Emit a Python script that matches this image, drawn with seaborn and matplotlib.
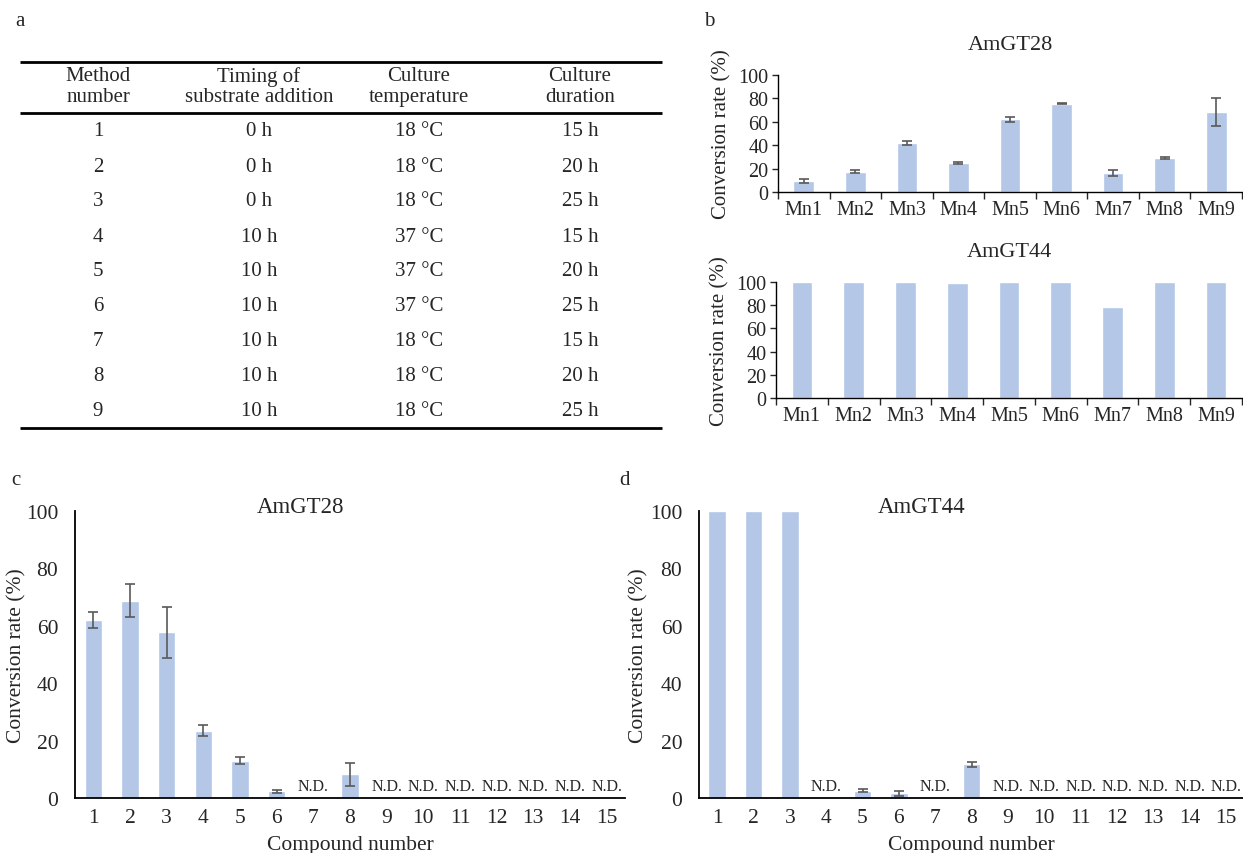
import numpy as np
import seaborn as sns
import matplotlib.pyplot as plt

sns.set_theme(style="white")
plt.rcParams['font.family'] = ['Liberation Serif', 'DejaVu Serif']
plt.rcParams['font.size'] = 15

# ---- data ----
tab_headers = ['Method\nnumber', 'Timing of\nsubstrate addition', 'Culture\ntemperature', 'Culture\nduration']
tab_method = ['1', '2', '3', '4', '5', '6', '7', '8', '9']
tab_timing = ['0 h', '0 h', '0 h', '10 h', '10 h', '10 h', '10 h', '10 h', '10 h']
tab_temp = ['18 °C', '18 °C', '18 °C', '37 °C', '37 °C', '37 °C', '18 °C', '18 °C', '18 °C']
tab_duration = ['15 h', '20 h', '25 h', '15 h', '20 h', '25 h', '15 h', '20 h', '25 h']

methods = ['Mn1', 'Mn2', 'Mn3', 'Mn4', 'Mn5', 'Mn6', 'Mn7', 'Mn8', 'Mn9']
gt28_method = [9.5, 17.5, 42.0, 25.0, 62.0, 75.5, 16.5, 28.7, 68.5]
gt28_method_err = [1.5, 1.0, 2.0, 0.7, 2.0, 0.7, 2.5, 0.8, 12.0]
gt44_method = [100, 100, 100, 99, 100, 100, 78.5, 100, 100]

compounds = [str(i) for i in range(1, 16)]
# None = N.D.
gt28_comp = [62.0, 68.8, 57.7, 23.5, 13.0, 2.3, None, 8.3, None, None, None, None, None, None, None]
gt28_comp_err = [2.8, 5.8, 9.0, 2.0, 1.2, 0.5, None, 4.0, None, None, None, None, None, None, None]
gt44_comp = [100, 100, 100, None, 2.6, 1.6, None, 11.7, None, None, None, None, None, None, None]
gt44_comp_err = [None, None, None, None, 0.6, 0.8, None, 0.8, None, None, None, None, None, None, None]

bar_color = '#B4C7E7'
err_color = '#595959'

W, H = 1243, 854
fig = plt.figure(figsize=(W / 100, H / 100), dpi=100)


def box(l, t, r, b):
    return [l / W, 1 - b / H, (r - l) / W, (b - t) / H]


def bars(ax, cats, vals, errs, width):
    v = [0 if x is None else x for x in vals]
    sns.barplot(x=cats, y=v, order=cats, color=bar_color, saturation=1,
                width=width, errorbar=None, ax=ax)
    idx = [i for i, e in enumerate(errs) if e is not None]
    if idx:
        ax.errorbar(idx, [v[i] for i in idx], yerr=[errs[i] for i in idx],
                    fmt='none', ecolor=err_color, elinewidth=1.2, capsize=3.5,
                    capthick=1.2, zorder=3)
    ax.set_ylim(0, 100)
    ax.set_yticks(range(0, 101, 20))
    for s in ['top', 'right']:
        ax.spines[s].set_visible(False)
    for s in ['left', 'bottom']:
        ax.spines[s].set_color('black')
        ax.spines[s].set_linewidth(1.0)


# ---- a: table ----
axt = fig.add_axes([0, 0, 1, 1], zorder=-1)
axt.set_xlim(0, W)
axt.set_ylim(H, 0)
axt.axis('off')
col_x = [98, 259, 419, 580]
axt.hlines([63, 114, 429], 20, 662, colors='black', linewidth=2)
for cx, h in zip(col_x, tab_headers):
    axt.text(cx, 87, h, ha='center', va='center', fontsize=15, linespacing=1.1)
for i, row in enumerate(zip(tab_method, tab_timing, tab_temp, tab_duration)):
    y = 132 + 35 * i
    for cx, t in zip(col_x, row):
        axt.text(cx, y, t, ha='center', va='center', fontsize=15)

# ---- b: method panels ----
for pos, vals, errs, title in [((778, 76, 1242, 193), gt28_method, gt28_method_err, 'AmGT28'),
                               ((776, 283, 1242, 399), gt44_method, [None] * 9, 'AmGT44')]:
    ax = fig.add_axes(box(*pos))
    bars(ax, methods, vals, errs, 0.4)
    ax.set_xlim(-0.5, 8.5)
    ax.set_xticks(np.arange(-0.5, 9, 1), minor=True)
    ax.tick_params(axis='x', which='major', length=0, pad=6, labelsize=14.5)
    ax.tick_params(axis='x', which='minor', bottom=True, length=5, width=1, direction='out')
    ax.tick_params(axis='y', left=True, length=4, width=1, direction='out', pad=3, labelsize=14.5)
    ax.set_ylabel('Conversion rate (%)', fontsize=15)
    ax.yaxis.set_label_coords(-0.1, 0.5)
    ax.text(0.5, 1.26, title, transform=ax.transAxes, ha='center', va='center', fontsize=16)

# ---- c, d: compound panels ----
for pos, vals, errs, title, xr, ylx in [((75, 512, 625, 799), gt28_comp, gt28_comp_err, 'AmGT28', 14.5, -0.088),
                                        ((699, 512, 1243, 799), gt44_comp, gt44_comp_err, 'AmGT44', 14.47, -0.092)]:
    ax = fig.add_axes(box(*pos))
    bars(ax, compounds, vals, errs, 0.48)
    ax.set_xlim(-0.5, xr)
    ax.spines['left'].set_linewidth(1.3)
    ax.spines['bottom'].set_linewidth(1.3)
    ax.tick_params(axis='x', length=0, pad=7, labelsize=15.5)
    ax.tick_params(axis='y', length=0, pad=12, labelsize=15.5)
    for i, v in enumerate(vals):
        if v is None:
            ax.text(i, 1.5, 'N.D.', ha='center', va='bottom', fontsize=11.5)
    ax.set_ylabel('Conversion rate (%)', fontsize=15.5)
    ax.yaxis.set_label_coords(ylx, 0.5)
    ax.set_xlabel('Compound number', fontsize=15.5)
    ax.xaxis.set_label_coords(0.5, -0.13)
    ax.text(0.41, 1.014, title, transform=ax.transAxes, ha='center', va='center', fontsize=16.5)

# panel letters
for x, y, s in [(20, 22, 'a'), (709, 22, 'b'), (16, 481, 'c'), (624, 481, 'd')]:
    fig.text(x / W, 1 - y / H, s, ha='center', va='center', fontsize=15)

fig.savefig('out.png', dpi=100)
